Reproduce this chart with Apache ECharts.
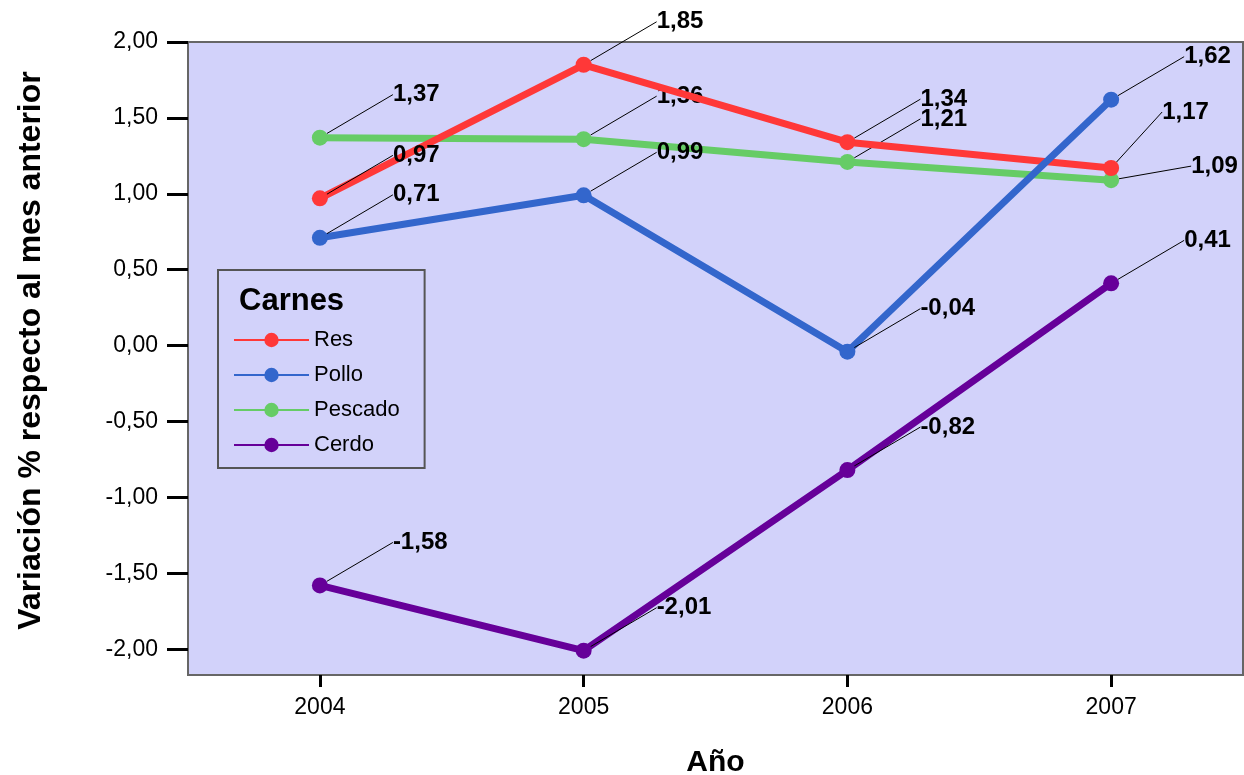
<!DOCTYPE html>
<html>
<head>
<meta charset="utf-8">
<script src="https://cdn.jsdelivr.net/npm/echarts@6/dist/echarts.min.js"></script>
<style>
  html, body { margin: 0; padding: 0; background: #fff; }
  #chart { width: 1244px; height: 775px; }
</style>
</head>
<body>
<div id="chart"></div>
<script>
// categorias y valores
const years = ['2004', '2005', '2006', '2007']
const res = [0.97, 1.85, 1.34, 1.17]
const pollo = [0.71, 0.99, -0.04, 1.62]
const pescado = [1.37, 1.36, 1.21, 1.09]
const cerdo = [-1.58, -2.01, -0.82, 0.41]
const yTicks = [-2, -1.5, -1, -0.5, 0, 0.5, 1, 1.5, 2]

const FONT = 'Liberation Sans, Arial, sans-serif'
const fmt = v => v.toFixed(2).replace('.', ',')

const chart = echarts.init(document.getElementById('chart'))

// desplazamiento de las etiquetas (la mayoria arriba a la derecha)
// orden de series: 0 Pescado, 1 Res, 2 Pollo, 3 Cerdo
const labelShift = (p) => {
  if (p.seriesIndex === 1 && p.dataIndex === 3) return { dx: 43, dy: -56 }
  if (p.seriesIndex === 0 && p.dataIndex === 3) return { dx: 72, dy: -14 }
  return { dx: 65, dy: -43 }
}

const makeSeries = (name, data, color, z) => ({
  name,
  type: 'line',
  data,
  z,
  symbol: 'circle',
  symbolSize: 16,
  lineStyle: { color, width: 7 },
  itemStyle: { color },
  label: {
    show: true,
    position: 'right',
    distance: 0,
    formatter: p => fmt(p.value),
    fontFamily: FONT,
    fontSize: 24,
    fontWeight: 'bold',
    color: '#000'
  },
  labelLine: { show: true, lineStyle: { color: '#000', width: 1 } },
  labelLayout: labelShift,
  emphasis: { disabled: true }
})

const option = {
  animation: false,
  title: {
    text: 'Carnes',
    left: 234,
    top: 281,
    textStyle: { fontFamily: FONT, fontSize: 31, fontWeight: 'bold', color: '#000' }
  },
  legend: {
    data: ['Res', 'Pollo', 'Pescado', 'Cerdo'],
    orient: 'vertical',
    left: 218,
    top: 270,
    padding: [59, 25, 12, 15],
    itemWidth: 75,
    itemHeight: 18,
    itemGap: 13,
    backgroundColor: '#D2D2FA',
    borderColor: '#555',
    borderWidth: 2,
    lineStyle: { width: 2 },
    textStyle: { fontFamily: FONT, fontSize: 22, color: '#000' }
  },
  grid: {
    left: 188, right: 1, top: 42, bottom: 100,
    outerBoundsMode: 'none',
    show: true,
    backgroundColor: '#D2D2FA',
    borderColor: '#666',
    borderWidth: 2
  },
  xAxis: {
    type: 'category',
    data: years,
    boundaryGap: true,
    name: 'Año',
    nameLocation: 'middle',
    nameGap: 73,
    nameTextStyle: { fontFamily: FONT, fontSize: 30, fontWeight: 'bold', color: '#000' },
    axisLine: { show: true, onZero: false, lineStyle: { color: '#666', width: 2 } },
    axisTick: { show: true, alignWithLabel: true, interval: 0, length: 12, lineStyle: { color: '#000', width: 3 } },
    axisLabel: { margin: 21, fontFamily: FONT, fontSize: 23, color: '#000' },
    splitLine: { show: false }
  },
  yAxis: {
    type: 'value',
    min: -2.17,
    max: 2,
    name: 'Variación % respecto al mes anterior',
    nameLocation: 'middle',
    nameGap: 141,
    nameTextStyle: { fontFamily: FONT, fontSize: 32, fontWeight: 'bold', color: '#000', padding: [0, 0, 0, 16] },
    axisLine: { show: true, lineStyle: { color: '#666', width: 2 } },
    axisTick: { show: true, length: 21, customValues: yTicks, lineStyle: { color: '#000', width: 3 } },
    axisLabel: { margin: 30, customValues: yTicks, formatter: v => fmt(v), fontFamily: FONT, fontSize: 23, color: '#000' },
    splitLine: { show: false }
  },
  series: [
    makeSeries('Pescado', pescado, '#66CC66', 2),
    makeSeries('Res', res, '#FF3838', 3),
    makeSeries('Pollo', pollo, '#3366CC', 4),
    makeSeries('Cerdo', cerdo, '#660099', 5)
  ]
}

chart.setOption(option)
</script>
</body>
</html>
